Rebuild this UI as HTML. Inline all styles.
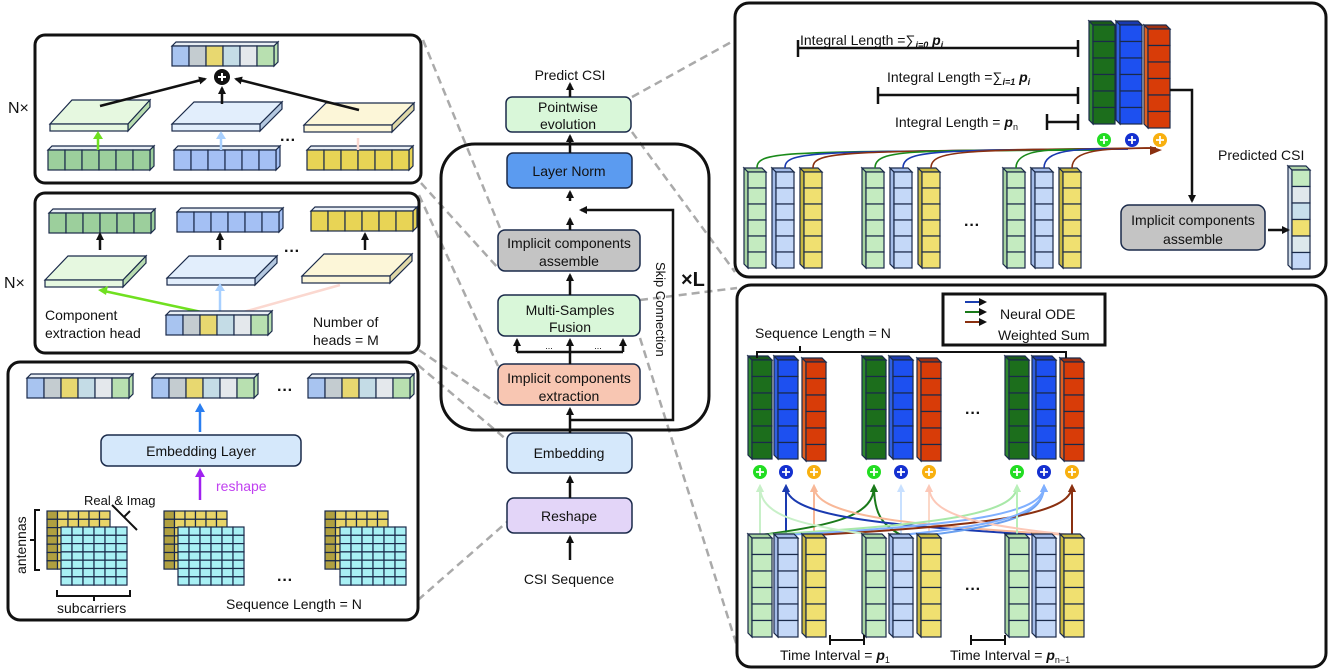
<!DOCTYPE html>
<html><head><meta charset="utf-8"><style>
html,body{margin:0;padding:0;background:#fff}
svg{display:block}
text{font-family:"Liberation Sans","DejaVu Sans",sans-serif;fill:#111}
</style></head><body>
<svg id="s" width="1329" height="671" viewBox="0 0 1329 671" xmlns="http://www.w3.org/2000/svg">
<defs>
<marker id="ak" markerWidth="8" markerHeight="8" refX="6" refY="4" orient="auto" markerUnits="userSpaceOnUse"><path d="M0,0 L8,4 L0,8 z" fill="#111"/></marker>
</defs>
<g id="dash" stroke="#aaa" stroke-width="2.5" stroke-dasharray="8,5" fill="none">
<line x1="423" y1="40" x2="500" y2="228"/>
<line x1="421" y1="183" x2="498" y2="268"/>
<line x1="419" y1="195" x2="498" y2="366"/>
<line x1="419" y1="350" x2="498" y2="404"/>
<line x1="418" y1="365" x2="507" y2="440"/>
<line x1="418" y1="600" x2="507" y2="522"/>
<line x1="632" y1="97" x2="735" y2="40"/>
<line x1="632" y1="132" x2="735" y2="272"/>
<line x1="640" y1="300" x2="737" y2="288"/>
<line x1="640" y1="338" x2="742" y2="662"/>
</g>
<g fill="none" stroke="#111" stroke-width="3">
<rect x="35" y="35" width="386" height="148" rx="10" fill="#fff"/>
<rect x="35" y="193" width="384" height="160" rx="10" fill="#fff"/>
<rect x="8" y="362" width="410" height="258" rx="12" fill="#fff"/>
<rect x="735" y="3" width="591" height="274" rx="14" fill="#fff"/>
<rect x="737" y="285" width="589" height="382" rx="14" fill="#fff"/>
<rect x="441" y="144" width="268" height="286" rx="34"/>
</g>
<g id="gen"></g>
<g stroke="#1a2a4a" stroke-width="1.5">
<rect x="506" y="97" width="125" height="35" rx="6" fill="#d9f7d9"/>
<rect x="507" y="153" width="125" height="35" rx="6" fill="#5b9bf0"/>
<rect x="498" y="230" width="142" height="41" rx="7" fill="#c4c4c4"/>
<rect x="498" y="295" width="142" height="41" rx="7" fill="#d9f7d9"/>
<rect x="498" y="364" width="142" height="41" rx="7" fill="#f8c6b2"/>
<rect x="507" y="433" width="125" height="40" rx="7" fill="#d5e8fb"/>
<rect x="507" y="498" width="125" height="35" rx="7" fill="#e3d5f8"/>
<rect x="101" y="435" width="200" height="31" rx="7" fill="#d5e8fb"/>
<rect x="1121" y="205" width="144" height="45" rx="8" fill="#c4c4c4"/>
</g>
<g stroke="#111" stroke-width="2.5" fill="none">
<line x1="570" y1="97" x2="570" y2="84" marker-end="url(#ak)"/>
<line x1="570" y1="153" x2="570" y2="136" marker-end="url(#ak)"/>
<line x1="570" y1="201" x2="570" y2="192" marker-end="url(#ak)"/>
<line x1="570" y1="230" x2="570" y2="219" marker-end="url(#ak)"/>
<line x1="570" y1="295" x2="570" y2="275" marker-end="url(#ak)"/>
<line x1="570" y1="364" x2="570" y2="340" marker-end="url(#ak)"/>
<polyline points="517,352 623,352"/>
<line x1="517" y1="352" x2="517" y2="340" marker-end="url(#ak)"/>
<line x1="623" y1="352" x2="623" y2="340" marker-end="url(#ak)"/>
<line x1="570" y1="433" x2="570" y2="409" marker-end="url(#ak)"/>
<polyline points="570,420 673,420 673,210 581,210" marker-end="url(#ak)"/>
<line x1="570" y1="498" x2="570" y2="477" marker-end="url(#ak)"/>
<line x1="570" y1="560" x2="570" y2="537" marker-end="url(#ak)"/>
<polyline points="1170,90 1192,90 1192,201" marker-end="url(#ak)"/>
<line x1="1268" y1="230" x2="1288" y2="230" marker-end="url(#ak)"/>
<line x1="100" y1="106" x2="205" y2="79" marker-end="url(#ak)"/>
<line x1="222" y1="104" x2="222" y2="88" marker-end="url(#ak)"/>
<line x1="359" y1="110" x2="236" y2="79" marker-end="url(#ak)"/>
<line x1="100" y1="250" x2="100" y2="234" marker-end="url(#ak)"/>
<line x1="220" y1="250" x2="220" y2="234" marker-end="url(#ak)"/>
<line x1="365" y1="250" x2="365" y2="234" marker-end="url(#ak)"/>
<line x1="798" y1="48" x2="1078" y2="48"/><line x1="798" y1="40" x2="798" y2="57"/><line x1="1078" y1="40" x2="1078" y2="57"/>
<line x1="878" y1="95" x2="1078" y2="95"/><line x1="878" y1="87" x2="878" y2="104"/><line x1="1078" y1="87" x2="1078" y2="104"/>
<line x1="1047" y1="122" x2="1078" y2="122"/><line x1="1047" y1="114" x2="1047" y2="130"/><line x1="1078" y1="114" x2="1078" y2="130"/>
</g>
<g stroke="#111" stroke-width="2" fill="none">
<polyline points="757,358 757,352 1066,352 1066,358"/><line x1="800" y1="352" x2="800" y2="346"/>
<line x1="830" y1="640" x2="864" y2="640"/><line x1="830" y1="635" x2="830" y2="645"/><line x1="864" y1="635" x2="864" y2="645"/>
<line x1="971" y1="640" x2="1005" y2="640"/><line x1="971" y1="635" x2="971" y2="645"/><line x1="1005" y1="635" x2="1005" y2="645"/>
<polyline points="40,510 35,510 35,570 40,570"/><line x1="35" y1="540" x2="30" y2="540"/>
<polyline points="57,590 57,596 130,596 130,590"/><line x1="94" y1="596" x2="94" y2="601"/>
<line x1="112" y1="505" x2="137" y2="530"/><line x1="124" y1="517" x2="130" y2="511"/>
</g>
<rect x="943" y="294" width="162" height="51" fill="#fff" stroke="#111" stroke-width="3"/>
<g stroke-width="2" fill="none">
<line x1="965" y1="302" x2="985" y2="302" stroke="#1b3fb0" marker-end="url(#ak)"/>
<line x1="965" y1="312" x2="985" y2="312" stroke="#1a7a1a" marker-end="url(#ak)"/>
<line x1="965" y1="322" x2="985" y2="322" stroke="#8a3010" marker-end="url(#ak)"/>
<line x1="200" y1="432" x2="200" y2="410" stroke="#2a7ef0" stroke-width="2.5"/>
<path d="M195,412 L200,403 L205,412z" fill="#2a7ef0" stroke="none"/>
<line x1="200" y1="500" x2="200" y2="476" stroke="#a020f0" stroke-width="2.5"/>
<path d="M195,477 L200,468 L205,477z" fill="#a020f0" stroke="none"/>
<line x1="206" y1="313" x2="104" y2="291" stroke="#70e020" stroke-width="2.5"/>
<path d="M98,290 L108,286 L106,295z" fill="#70e020" stroke="none"/>
<line x1="220" y1="313" x2="220" y2="290" stroke="#a8d0ff" stroke-width="2.5"/>
<path d="M215,291 L220,283 L225,291z" fill="#a8d0ff" stroke="none"/>
<line x1="240" y1="313" x2="340" y2="285" stroke="#fbd8d0" stroke-width="2.5"/>
<line x1="98" y1="150" x2="98" y2="138" stroke="#70e020" stroke-width="2.5"/>
<path d="M93,139 L98,131 L103,139z" fill="#70e020" stroke="none"/>
<line x1="221" y1="150" x2="221" y2="138" stroke="#a8d0ff" stroke-width="2.5"/>
<path d="M216,139 L221,131 L226,139z" fill="#a8d0ff" stroke="none"/>
<line x1="358" y1="150" x2="358" y2="138" stroke="#fbd8d0" stroke-width="2.5"/>
</g>
<g id="gen2"></g>
<g font-size="14">
<text x="570" y="80" text-anchor="middle" font-size="14">Predict CSI</text>
<text x="568" y="112" text-anchor="middle" font-size="14">Pointwise</text>
<text x="568" y="129" text-anchor="middle" font-size="14">evolution</text>
<text x="569" y="176" text-anchor="middle" font-size="14">Layer Norm</text>
<text x="569" y="248" text-anchor="middle" font-size="14">Implicit components</text>
<text x="569" y="266" text-anchor="middle" font-size="14">assemble</text>
<text x="570" y="315" text-anchor="middle" font-size="14">Multi-Samples</text>
<text x="570" y="332" text-anchor="middle" font-size="14">Fusion</text>
<text x="549" y="349" text-anchor="middle" font-size="9">...</text>
<text x="598" y="349" text-anchor="middle" font-size="9">...</text>
<text x="569" y="383" text-anchor="middle" font-size="14">Implicit components</text>
<text x="569" y="401" text-anchor="middle" font-size="14">extraction</text>
<text x="569" y="458" text-anchor="middle" font-size="14">Embedding</text>
<text x="569" y="521" text-anchor="middle" font-size="14">Reshape</text>
<text x="569" y="584" text-anchor="middle" font-size="14">CSI Sequence</text>
<text x="0" y="0" font-size="13" transform="translate(656,262) rotate(90)">Skip Connection</text>
<text x="681" y="286" font-size="20" font-weight="bold">×L</text>
<text x="8" y="113" font-size="16">N×</text>
<text x="4" y="288" font-size="16">N×</text>
<text x="45" y="320" font-size="14">Component</text>
<text x="45" y="338" font-size="14">extraction head</text>
<text x="313" y="327" font-size="14">Number of</text>
<text x="313" y="345" font-size="14">heads = M</text>
<text x="201" y="456" text-anchor="middle" font-size="14">Embedding Layer</text>
<text x="216" y="491" font-size="14" style="fill:#c040f0">reshape</text>
<text x="84" y="505" font-size="13">Real &amp; Imag</text>
<text x="0" y="0" font-size="14" transform="translate(26,574) rotate(-90)">antennas</text>
<text x="57" y="613" font-size="14">subcarriers</text>
<text x="226" y="609" font-size="14">Sequence Length = N</text>
<text x="800" y="45" font-size="14">Integral Length =∑<tspan font-size="9" dy="3" font-style="italic" font-weight="bold">i=0</tspan><tspan dy="-3" font-style="italic" font-weight="bold"> p</tspan><tspan font-size="9" dy="3" font-style="italic" font-weight="bold">i</tspan></text>
<text x="887" y="82" font-size="14">Integral Length =∑<tspan font-size="9" dy="3" font-style="italic" font-weight="bold">i=1</tspan><tspan dy="-3" font-style="italic" font-weight="bold"> p</tspan><tspan font-size="9" dy="3" font-style="italic" font-weight="bold">i</tspan></text>
<text x="895" y="127" font-size="14">Integral Length = <tspan font-style="italic" font-weight="bold">p</tspan><tspan font-size="9" dy="3">n</tspan></text>
<text x="1218" y="160" font-size="14">Predicted CSI</text>
<text x="1193" y="225" text-anchor="middle" font-size="14">Implicit components</text>
<text x="1193" y="244" text-anchor="middle" font-size="14">assemble</text>
<text x="1000" y="319" font-size="14">Neural ODE</text>
<text x="998" y="340" font-size="14">Weighted Sum</text>
<text x="755" y="338" font-size="14">Sequence Length = N</text>
<text x="780" y="660" font-size="14">Time Interval = <tspan font-style="italic" font-weight="bold">p</tspan><tspan font-size="9" dy="3">1</tspan></text>
<text x="950" y="660" font-size="14">Time Interval = <tspan font-style="italic" font-weight="bold">p</tspan><tspan font-size="9" dy="3">n−1</tspan></text>
<text x="288" y="145" font-size="16" font-weight="bold" text-anchor="middle">···</text>
<text x="292" y="256" font-size="16" font-weight="bold" text-anchor="middle">···</text>
<text x="285" y="395" font-size="16" font-weight="bold" text-anchor="middle">···</text>
<text x="285" y="585" font-size="16" font-weight="bold" text-anchor="middle">···</text>
<text x="972" y="230" font-size="16" font-weight="bold" text-anchor="middle">···</text>
<text x="973" y="418" font-size="16" font-weight="bold" text-anchor="middle">···</text>
<text x="973" y="594" font-size="16" font-weight="bold" text-anchor="middle">···</text>
</g>
</svg>
<script>
(function(){
var NS='http://www.w3.org/2000/svg';
var ST='#1a2a4a';
var gen=document.getElementById('gen'),gen2=document.getElementById('gen2');
var cur=gen;
function E(tag,a){var e=document.createElementNS(NS,tag);for(var k in a)e.setAttribute(k,a[k]);cur.appendChild(e);return e;}
function P(pts,f){E('polygon',{points:pts.map(function(p){return p[0]+','+p[1]}).join(' '),fill:f,stroke:ST,'stroke-width':1.2});}
function R(x,y,w,h,f){E('rect',{x:x,y:y,width:w,height:h,fill:f,stroke:ST,'stroke-width':1.2});}
function hbar(x,y,fills,cw,h,d){cw=cw||17;h=h||20;d=d||4;var n=fills.length,W=n*cw;
 P([[x,y],[x+d,y-d],[x+W+d,y-d],[x+W,y]],'#e8eef4');
 P([[x+W,y],[x+W+d,y-d],[x+W+d,y+h-d],[x+W,y+h]],fills[n-1]);
 for(var i=0;i<n;i++)R(x+i*cw,y,cw,h,fills[i]);}
function vcol(x,y,w,ch,n,f,side,top){var d=4,H=ch*n;
 P([[x,y],[x-d,y-d],[x-d,y+H-d],[x,y+H]],side);
 P([[x,y],[x-d,y-d],[x+w-d,y-d],[x+w,y]],top||side);
 for(var i=0;i<n;i++)R(x,y+i*ch,w,ch,f);}
function vcolm(x,y,w,ch,fills){var d=4,n=fills.length,H=ch*n;
 P([[x,y],[x-d,y-d],[x-d,y+H-d],[x,y+H]],'#d0dce8');
 P([[x,y],[x-d,y-d],[x+w-d,y-d],[x+w,y]],'#b0d4a8');
 for(var i=0;i<n;i++)R(x,y+i*ch,w,ch,fills[i]);}
function slab(x,y,w,dx,dy,f,side){
 P([[x,y],[x+dx,y-dy],[x+w+dx,y-dy],[x+w,y]],f);
 P([[x+w,y],[x+w+dx,y-dy],[x+w+dx,y-dy+7],[x+w,y+7]],side);
 R(x,y,w,7,f);}
function grid(x,y,cols,rows,cw,ch,f,f2){for(var r=0;r<rows;r++)for(var c=0;c<cols;c++){R(x+c*cw,y+r*ch,cw,ch,(c==0&&f2)?f2:f);}}
function plus(cx,cy,c,r){r=r||7;E('circle',{cx:cx,cy:cy,r:r,fill:c});E('path',{d:'M'+(cx-4)+','+cy+'h8M'+cx+','+(cy-4)+'v8',stroke:'#fff','stroke-width':1.8});}
function rep(v){return [v,v,v,v,v,v];}
var G6=rep('#9ccf9c'),B6=rep('#a4c0f4'),Y6=rep('#e8d455');
var MX=['#a8c4f0','#c4ccd0','#e8d870','#c4dce6','#e4e8ec','#b8e0b0'];
hbar(172,46,MX);
slab(50,124,78,22,24,'#e6f8e0','#b8dcb0');
slab(172,124,88,22,22,'#e2eefc','#b4c8e0');
slab(304,125,88,22,22,'#fcf6d8','#e0d8a8');
hbar(48,150,G6);hbar(174,150,B6);hbar(307,150,Y6);
E('circle',{cx:222,cy:77,r:8,fill:'#111'});E('path',{d:'M218,77h8M222,73v8',stroke:'#fff','stroke-width':2});
hbar(49,213,G6);hbar(177,212,B6);hbar(311,211,Y6);
slab(45,280,78,23,24,'#e6f8e0','#b8dcb0');
slab(167,278,88,22,22,'#e2eefc','#b4c8e0');
slab(302,276,88,22,22,'#fcf6d8','#e0d8a8');
hbar(27,378,MX);hbar(152,378,MX);hbar(308,378,MX);
[[47,61],[164,178],[325,340]].forEach(function(g){
 grid(g[0],511,6,7,10.5,8.3,'#e8d468','#b0a040');
 grid(g[1],527,6,7,11,8.3,'#a8f0f4');});
vcol(1093,25,22,16.5,6,'#1c6e1c','#2e8a2e','#1a5a1a');
vcol(1120,25,22,16.5,6,'#1d50f0','#3060e0','#1a3ab0');
vcol(1148,29,22,16.5,6,'#d83c08','#e06020','#a03010');
plus(1104,140,'#22dd22');plus(1132,140,'#1430d0');plus(1160,140,'#f8b010');
[[748,776,804],[866,894,922],[1007,1035,1063]].forEach(function(g){
 vcol(g[0],172,18,16,6,'#c4ebc0','#a8d4a0');vcol(g[1],172,18,16,6,'#c4d8f8','#a4bce8');vcol(g[2],172,18,16,6,'#f0e070','#c8b840');});
vcolm(1292,170,18,16.5,['#c4ebc0','#e0e8ec','#c8e0ec','#f0e070','#dce8ec','#c4d8f8']);
var cs=[['#1a8a1a',1104],['#1a3ab0',1132],['#8a3010',1160]];
[[757,785,813],[875,903,931],[1016,1044,1072]].forEach(function(g,gi){
 for(var k=0;k<3;k++){var x=g[k],t=cs[k][1];
 E('path',{d:'M'+x+',168 C'+x+',150 '+(x+30)+','+(152-gi*2)+' '+(t-4)+','+(150-k),stroke:cs[k][0],'stroke-width':1.6,fill:'none'});}});
E('path',{d:'M1150,146 L1162,150 L1150,155z',fill:'#8a3010'});
var tops=[[752,778,806],[866,893,921],[1009,1036,1064]];
tops.forEach(function(g){
 vcol(g[0],360,20,16.5,6,'#1c6e1c','#2e8a2e','#1a5a1a');vcol(g[1],360,20,16.5,6,'#1d50f0','#3060e0','#1a3ab0');vcol(g[2],362,20,16.5,6,'#d83c08','#e06020','#a03010');});
var pc=['#22dd22','#1430d0','#f8b010'];
tops.forEach(function(g){for(var k=0;k<3;k++)plus(g[k]+8,472,pc[k]);});
var curv=[
['#c8f0c8',760,535,760,484],['#1a3ab0',786,535,786,484],['#f8b898',814,535,814,484],
['#1a7a1a',760,535,874,484],['#1a7a1a',901,535,874,484],['#c8e0ff',901,535,901,484],['#fcd8c8',929,535,929,484],
['#1a3ab0',1044,535,786,484],['#f8b898',1072,535,814,484],['#a8e8a8',760,535,1017,484],['#80b0ff',786,535,1044,484],
['#6aa0f0',929,535,1044,484],['#8a3010',814,535,1072,484],['#8a3010',1072,535,1072,484],['#b8f0b8',1017,535,1017,484],
['#c8f0c8',874,535,760,484],['#fcc8b8',1072,535,929,484],['#80b0ff',901,535,1044,484]];
curv.forEach(function(c){var x1=c[1],y1=c[2],x2=c[3],y2=c[4];
 E('path',{d:'M'+x1+','+y1+' C'+(x1*0.3+x2*0.7)+','+(y1-10)+' '+x2+','+(y2+30)+' '+x2+','+(y2+2),stroke:c[0],'stroke-width':2,fill:'none'});
 E('path',{d:'M'+(x2-4)+','+(y2+8)+' L'+x2+','+y2+' L'+(x2+4)+','+(y2+8)+'z',fill:c[0]});});
[[752,778,806],[866,893,921],[1009,1036,1064]].forEach(function(g){
 vcol(g[0],538,20,16.5,6,'#c4ebc0','#a8d4a0');vcol(g[1],538,20,16.5,6,'#c4d8f8','#a4bce8');vcol(g[2],538,20,16.5,6,'#f0e070','#c8b840');});
plus(955,334,'#22dd22',8);plus(972,334,'#1430d0',8);plus(989,334,'#f8b010',8);
cur=gen2;
hbar(166,315,MX);
})();
</script>
</body></html>
